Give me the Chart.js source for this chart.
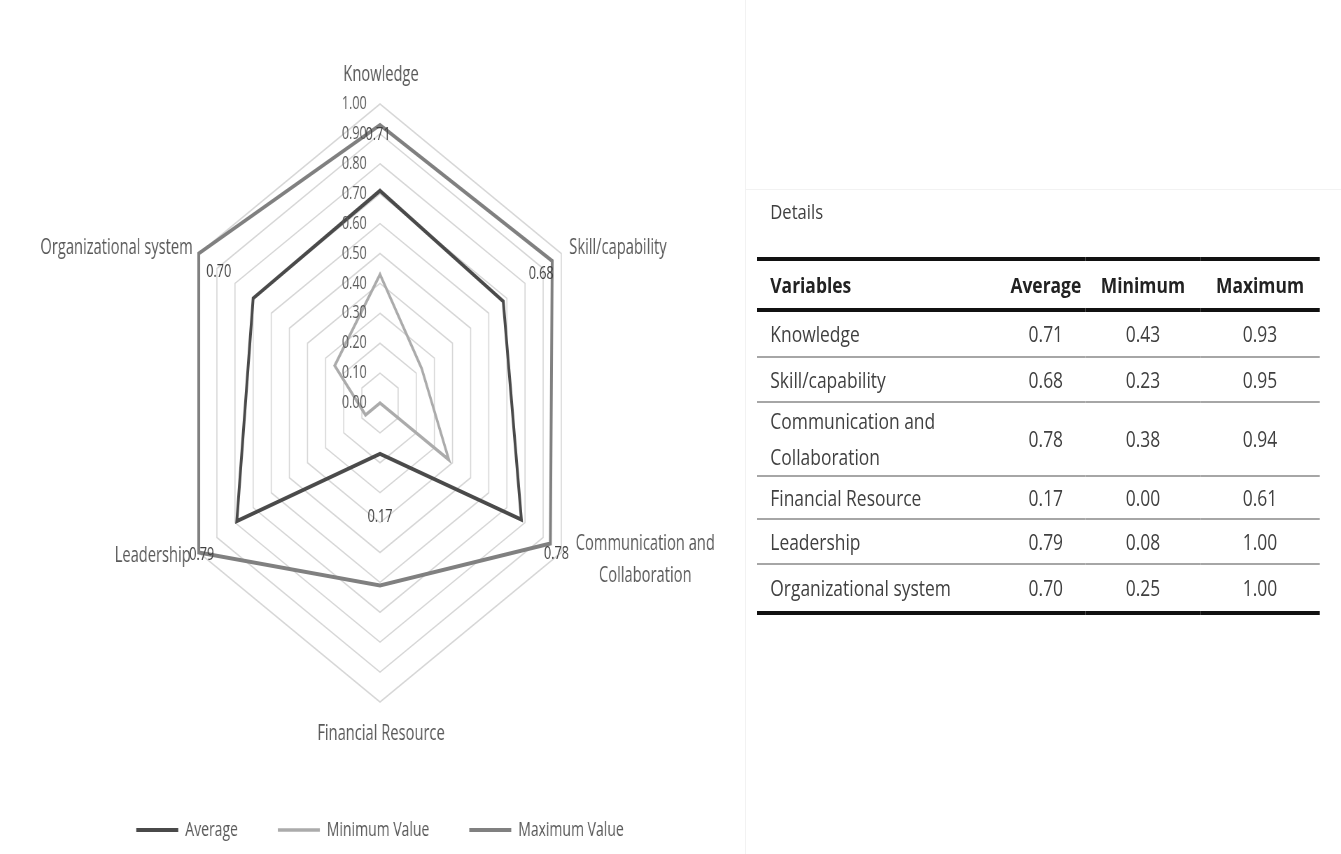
<!DOCTYPE html>
<html>
<head>
<meta charset="utf-8">
<script src="https://cdn.jsdelivr.net/npm/chart.js@4/dist/chart.umd.min.js"></script>
<style>
  html, body { margin: 0; padding: 0; background: #fff; }
  body { width: 1341px; height: 854px; overflow: hidden; position: relative; font-family: "Open Sans", sans-serif; }
  #chartWrap { position: absolute; left: 2px; top: 0; width: 1080px; height: 850px; transform: scaleX(0.7); transform-origin: 0 0; }
  #panel { position: absolute; left: 757px; top: 0; width: 678px; height: 854px; transform: scaleX(0.83); transform-origin: 0 0; color: #404040; }
  #details { position: absolute; left: 16px; top: 198px; font-size: 20px; line-height: 28px; }
  #tbl { position: absolute; left: 0; top: 257px; width: 678px; border-collapse: collapse; font-size: 21px; border-top: 4px solid #111; border-bottom: 4px solid #111; }
  #tbl td, #tbl th { padding: 0; text-align: center; }
  #tbl th { font-weight: bold; color: #222; height: 47px; border-bottom: 4px solid #111; }
  #tbl td { border-bottom: 2px solid #a6a6a6; line-height: 36px; }
  #tbl tr:last-child td { border-bottom: none; }
  #tbl .name { text-align: left; padding-left: 16px; }
  .frameV { position: absolute; left: 745px; top: 0; width: 1px; height: 854px; background: #f2f2f2; }
  .frameH { position: absolute; left: 745px; top: 189px; width: 596px; height: 1px; background: #f2f2f2; }
</style>
</head>
<body>
<div class="frameV"></div>
<div class="frameH"></div>
<div id="chartWrap"><canvas id="radar" width="1080" height="850"></canvas></div>
<div id="panel">
  <div id="details">Details</div>
  <table id="tbl">
    <colgroup><col style="width:300px"><col style="width:96px"><col style="width:138px"><col style="width:144px"></colgroup>
    <thead><tr id="headRow"></tr></thead>
    <tbody id="tbody"></tbody>
  </table>
</div>
<script>
const categories = ['Knowledge', 'Skill/capability', ['Communication and', 'Collaboration'], 'Financial Resource', 'Leadership', 'Organizational system'];
const averageValues = [0.71, 0.68, 0.78, 0.17, 0.79, 0.70];
const minimumValues = [0.43, 0.23, 0.38, 0.00, 0.08, 0.25];
const maximumValues = [0.93, 0.95, 0.94, 0.61, 1.00, 1.00];
const seriesNames = ['Average', 'Minimum Value', 'Maximum Value'];
const tickValues = [0, 0.1, 0.2, 0.3, 0.4, 0.5, 0.6, 0.7, 0.8, 0.9, 1.0];
const tableHeaders = ['Variables', 'Average', 'Minimum', 'Maximum'];
const rowHeights = [44, 43, 71, 41, 43, 46];

// horizontal squash applied to the canvas (css transform)
const SX = 0.7;
// screen-pixel nudges for the category names, relative to outer vertex
const nameNudge = [[1, -29, 'center'], [8, -5, 'left'], [84, 8, 'center'], [1, 32, 'center'], [-8, 4, 'right'], [-6, -5, 'right']];
// screen-pixel nudges for the average value labels, relative to the max point
const valueNudge = [[-2, 10], [-11, 13], [6, 10], [0, -69], [3, 2], [20, 18]];

const radarText = {
  id: 'radarText',
  afterDatasetsDraw(chart) {
    const r = chart.scales.r;
    const ctx = chart.ctx;
    ctx.save();
    ctx.textBaseline = 'middle';

    // value axis labels
    ctx.font = '18px "Open Sans"';
    ctx.fillStyle = '#595959';
    ctx.textAlign = 'right';
    tickValues.forEach(v => {
      ctx.fillText(v.toFixed(2), r.xCenter - 19, r.yCenter - r.getDistanceFromCenterForValue(v));
    });

    // average value labels
    ctx.textAlign = 'center';
    ctx.fillStyle = '#404040';
    averageValues.forEach((v, i) => {
      const p = r.getPointPositionForValue(i, maximumValues[i]);
      ctx.fillText(v.toFixed(2), p.x + valueNudge[i][0] / SX, p.y + valueNudge[i][1]);
    });

    // category names
    ctx.font = '21px "Open Sans"';
    ctx.fillStyle = '#595959';
    categories.forEach((name, i) => {
      const p = r.getPointPosition(i, r.drawingArea);
      const lines = Array.isArray(name) ? name : [name];
      ctx.textAlign = nameNudge[i][2];
      const x = p.x + nameNudge[i][0] / SX;
      const y0 = p.y + nameNudge[i][1] - (lines.length - 1) * 16;
      lines.forEach((t, k) => ctx.fillText(t, x, y0 + k * 32));
    });
    ctx.restore();
  }
};

new Chart(document.getElementById('radar'), {
  type: 'radar',
  data: {
    labels: categories,
    datasets: [
      { label: seriesNames[0], data: averageValues, borderColor: '#4a4a4a', borderWidth: 4, fill: false },
      { label: seriesNames[1], data: minimumValues, borderColor: '#ababab', borderWidth: 3.5, fill: false },
      { label: seriesNames[2], data: maximumValues, borderColor: '#808080', borderWidth: 4, fill: false }
    ]
  },
  options: {
    responsive: false,
    animation: false,
    layout: { padding: { left: 0, right: 0, top: 104, bottom: 0 } },
    elements: { point: { radius: 0, hoverRadius: 0 }, line: { tension: 0 } },
    plugins: {
      tooltip: { enabled: false },
      legend: {
        position: 'bottom',
        // empty title only pushes the legend row down
        title: { display: true, text: ' ', font: { size: 12 }, padding: { top: 0, bottom: 45 } },
        labels: {
          usePointStyle: true,
          pointStyle: 'line',
          pointStyleWidth: 60,
          padding: 57,
          color: '#595959',
          font: { family: 'Open Sans', size: 20 }
        }
      }
    },
    scales: {
      r: {
        min: 0,
        max: 1,
        ticks: { display: false, stepSize: 0.1 },
        grid: { circular: false, color: '#d6d6d6', lineWidth: 1.6 },
        angleLines: { display: false },
        pointLabels: { display: false }
      }
    }
  },
  plugins: [radarText]
});

// the details table, from the same arrays
const headRow = document.getElementById('headRow');
tableHeaders.forEach((h, i) => {
  const th = document.createElement('th');
  th.textContent = h;
  if (i === 0) th.className = 'name';
  headRow.appendChild(th);
});
const tbody = document.getElementById('tbody');
categories.forEach((name, i) => {
  const tr = document.createElement('tr');
  const cells = [Array.isArray(name) ? name.join('<br>') : name,
    averageValues[i].toFixed(2), minimumValues[i].toFixed(2), maximumValues[i].toFixed(2)];
  cells.forEach((c, k) => {
    const td = document.createElement('td');
    td.innerHTML = c;
    td.style.height = rowHeights[i] + 'px';
    if (k === 0) td.className = 'name';
    tr.appendChild(td);
  });
  tbody.appendChild(tr);
});
</script>
</body>
</html>
